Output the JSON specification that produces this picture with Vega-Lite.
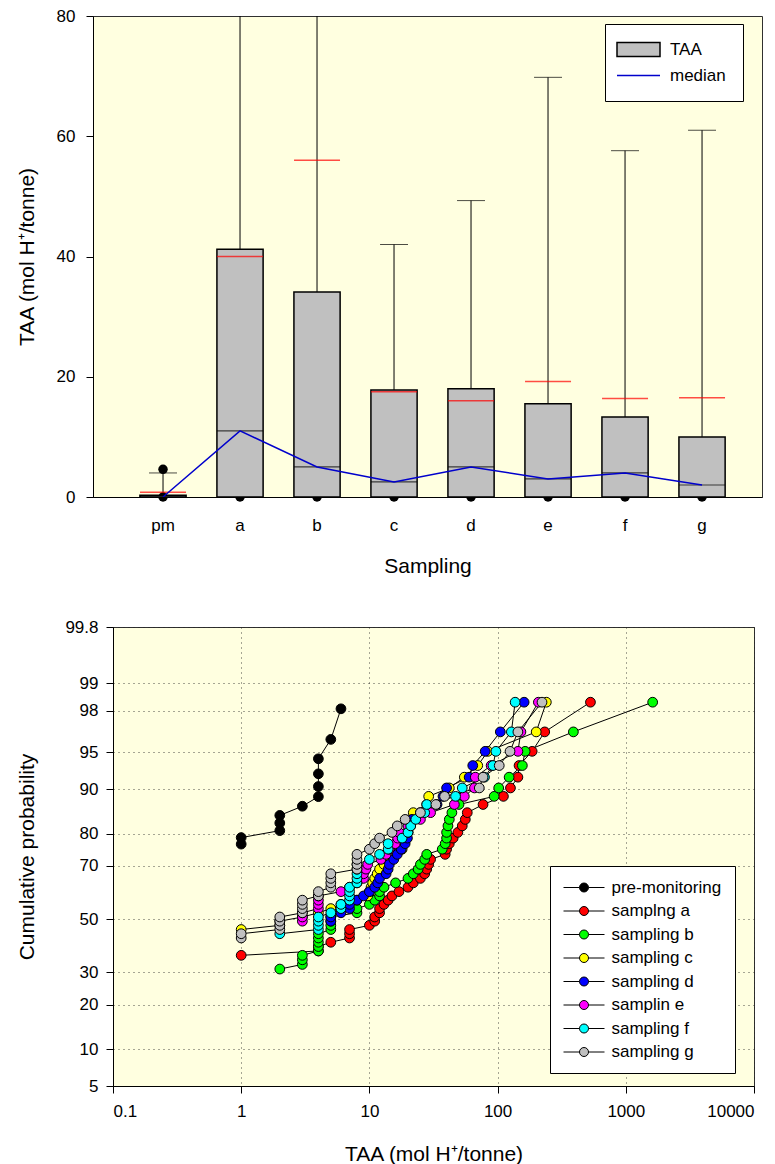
{
  "$schema": "https://vega.github.io/schema/vega-lite/v6.json",
  "background": "white",
  "padding": {"left": 15, "top": 6, "right": 5, "bottom": 0},
  "spacing": 40,
  "resolve": {
    "scale": {"color": "independent", "fill": "independent", "stroke": "independent", "shape": "independent"},
    "legend": {"color": "independent", "fill": "independent", "stroke": "independent", "shape": "independent"}
  },
  "config": {
    "font": "Liberation Sans",
    "view": {"fill": "#FFFFE0", "stroke": "#303030", "strokeWidth": 1},
    "axis": {"domainColor": "black", "tickColor": "black", "labelColor": "black", "titleColor": "black", "labelFontSize": 17, "titleFontSize": 21, "titleFontWeight": "normal", "labelFont": "Liberation Sans", "titleFont": "Liberation Sans"},
    "legend": {"labelFont": "Liberation Sans", "labelColor": "black"}
  },
  "datasets": {
    "box": [
      {"sampling": "pm", "q1": 0, "median": 0, "q3": 0.3, "upper": 4, "mean": 0.8},
      {"sampling": "a", "q1": 0, "median": 11, "q3": 41.2, "upper": 100, "mean": 40},
      {"sampling": "b", "q1": 0, "median": 5, "q3": 34.1, "upper": 100, "mean": 56},
      {"sampling": "c", "q1": 0, "median": 2.5, "q3": 17.8, "upper": 42, "mean": 17.5},
      {"sampling": "d", "q1": 0, "median": 5, "q3": 18, "upper": 49.3, "mean": 16},
      {"sampling": "e", "q1": 0, "median": 3, "q3": 15.5, "upper": 69.8, "mean": 19.2},
      {"sampling": "f", "q1": 0, "median": 4, "q3": 13.3, "upper": 57.6, "mean": 16.4},
      {"sampling": "g", "q1": 0, "median": 2, "q3": 10, "upper": 61, "mean": 16.5}
    ],
    "dots": [
      {"sampling": "pm", "taa": 0}, {"sampling": "pm", "taa": 4.6},
      {"sampling": "a", "taa": 0}, {"sampling": "b", "taa": 0}, {"sampling": "c", "taa": 0},
      {"sampling": "d", "taa": 0}, {"sampling": "e", "taa": 0}, {"sampling": "f", "taa": 0}, {"sampling": "g", "taa": 0}
    ],
    "keys": [
      {"sampling": "pm", "taa": 0, "item": "TAA"},
      {"sampling": "pm", "taa": 0, "item": "median"}
    ],
    "cdf": [
      {"series": "pre-monitoring", "taa": 1, "p": 76.92},
      {"series": "pre-monitoring", "taa": 1, "p": 78.85},
      {"series": "pre-monitoring", "taa": 2, "p": 80.77},
      {"series": "pre-monitoring", "taa": 2, "p": 82.69},
      {"series": "pre-monitoring", "taa": 2, "p": 84.62},
      {"series": "pre-monitoring", "taa": 3, "p": 86.54},
      {"series": "pre-monitoring", "taa": 4, "p": 88.46},
      {"series": "pre-monitoring", "taa": 4, "p": 90.38},
      {"series": "pre-monitoring", "taa": 4, "p": 92.31},
      {"series": "pre-monitoring", "taa": 4, "p": 94.23},
      {"series": "pre-monitoring", "taa": 5, "p": 96.15},
      {"series": "pre-monitoring", "taa": 6, "p": 98.08},

      {"series": "samplng a", "taa": 1, "p": 36.07},
      {"series": "samplng a", "taa": 4, "p": 37.70},
      {"series": "samplng a", "taa": 4, "p": 39.34},
      {"series": "samplng a", "taa": 5, "p": 40.98},
      {"series": "samplng a", "taa": 7, "p": 42.62},
      {"series": "samplng a", "taa": 7, "p": 44.26},
      {"series": "samplng a", "taa": 7, "p": 45.90},
      {"series": "samplng a", "taa": 10, "p": 47.54},
      {"series": "samplng a", "taa": 11, "p": 49.18},
      {"series": "samplng a", "taa": 11, "p": 50.82},
      {"series": "samplng a", "taa": 12, "p": 52.46},
      {"series": "samplng a", "taa": 12, "p": 54.10},
      {"series": "samplng a", "taa": 13, "p": 55.74},
      {"series": "samplng a", "taa": 14, "p": 57.38},
      {"series": "samplng a", "taa": 15, "p": 59.02},
      {"series": "samplng a", "taa": 17, "p": 60.66},
      {"series": "samplng a", "taa": 20, "p": 62.30},
      {"series": "samplng a", "taa": 22, "p": 63.93},
      {"series": "samplng a", "taa": 25, "p": 65.57},
      {"series": "samplng a", "taa": 27, "p": 67.21},
      {"series": "samplng a", "taa": 28, "p": 68.85},
      {"series": "samplng a", "taa": 29, "p": 70.49},
      {"series": "samplng a", "taa": 30, "p": 72.13},
      {"series": "samplng a", "taa": 39, "p": 73.77},
      {"series": "samplng a", "taa": 40, "p": 75.41},
      {"series": "samplng a", "taa": 42, "p": 77.05},
      {"series": "samplng a", "taa": 45, "p": 78.69},
      {"series": "samplng a", "taa": 49, "p": 80.33},
      {"series": "samplng a", "taa": 53, "p": 81.97},
      {"series": "samplng a", "taa": 56, "p": 83.61},
      {"series": "samplng a", "taa": 58, "p": 85.25},
      {"series": "samplng a", "taa": 77, "p": 86.89},
      {"series": "samplng a", "taa": 111, "p": 88.52},
      {"series": "samplng a", "taa": 126, "p": 90.16},
      {"series": "samplng a", "taa": 144, "p": 91.80},
      {"series": "samplng a", "taa": 147, "p": 93.44},
      {"series": "samplng a", "taa": 186, "p": 95.08},
      {"series": "samplng a", "taa": 233, "p": 96.72},
      {"series": "samplng a", "taa": 530, "p": 98.36},

      {"series": "sampling b", "taa": 2, "p": 31.15},
      {"series": "sampling b", "taa": 3, "p": 32.79},
      {"series": "sampling b", "taa": 3, "p": 34.43},
      {"series": "sampling b", "taa": 3, "p": 36.07},
      {"series": "sampling b", "taa": 4, "p": 37.70},
      {"series": "sampling b", "taa": 4, "p": 39.34},
      {"series": "sampling b", "taa": 4, "p": 40.98},
      {"series": "sampling b", "taa": 4, "p": 42.62},
      {"series": "sampling b", "taa": 4, "p": 44.26},
      {"series": "sampling b", "taa": 5, "p": 45.90},
      {"series": "sampling b", "taa": 5, "p": 47.54},
      {"series": "sampling b", "taa": 5, "p": 49.18},
      {"series": "sampling b", "taa": 5, "p": 50.82},
      {"series": "sampling b", "taa": 8, "p": 52.46},
      {"series": "sampling b", "taa": 8, "p": 54.10},
      {"series": "sampling b", "taa": 10, "p": 55.74},
      {"series": "sampling b", "taa": 11, "p": 57.38},
      {"series": "sampling b", "taa": 12, "p": 59.02},
      {"series": "sampling b", "taa": 12, "p": 60.66},
      {"series": "sampling b", "taa": 13, "p": 62.30},
      {"series": "sampling b", "taa": 16, "p": 63.93},
      {"series": "sampling b", "taa": 20, "p": 65.57},
      {"series": "sampling b", "taa": 22, "p": 67.21},
      {"series": "sampling b", "taa": 24, "p": 68.85},
      {"series": "sampling b", "taa": 25, "p": 70.49},
      {"series": "sampling b", "taa": 27, "p": 72.13},
      {"series": "sampling b", "taa": 28, "p": 73.77},
      {"series": "sampling b", "taa": 37, "p": 75.41},
      {"series": "sampling b", "taa": 39, "p": 77.05},
      {"series": "sampling b", "taa": 40, "p": 78.69},
      {"series": "sampling b", "taa": 40, "p": 80.33},
      {"series": "sampling b", "taa": 41, "p": 81.97},
      {"series": "sampling b", "taa": 42, "p": 83.61},
      {"series": "sampling b", "taa": 44, "p": 85.25},
      {"series": "sampling b", "taa": 50, "p": 86.89},
      {"series": "sampling b", "taa": 94, "p": 88.52},
      {"series": "sampling b", "taa": 102, "p": 90.16},
      {"series": "sampling b", "taa": 123, "p": 91.80},
      {"series": "sampling b", "taa": 156, "p": 93.44},
      {"series": "sampling b", "taa": 164, "p": 95.08},
      {"series": "sampling b", "taa": 390, "p": 96.72},
      {"series": "sampling b", "taa": 1620, "p": 98.36},

      {"series": "sampling c", "taa": 1, "p": 45.90},
      {"series": "sampling c", "taa": 2, "p": 47.54},
      {"series": "sampling c", "taa": 2, "p": 49.18},
      {"series": "sampling c", "taa": 3, "p": 50.82},
      {"series": "sampling c", "taa": 4, "p": 52.46},
      {"series": "sampling c", "taa": 5, "p": 54.10},
      {"series": "sampling c", "taa": 6, "p": 55.74},
      {"series": "sampling c", "taa": 8, "p": 57.38},
      {"series": "sampling c", "taa": 9.7, "p": 59.02},
      {"series": "sampling c", "taa": 10, "p": 60.66},
      {"series": "sampling c", "taa": 10.3, "p": 62.30},
      {"series": "sampling c", "taa": 10.6, "p": 63.93},
      {"series": "sampling c", "taa": 11, "p": 65.57},
      {"series": "sampling c", "taa": 11.5, "p": 67.21},
      {"series": "sampling c", "taa": 12, "p": 68.85},
      {"series": "sampling c", "taa": 13, "p": 70.49},
      {"series": "sampling c", "taa": 14, "p": 72.13},
      {"series": "sampling c", "taa": 16, "p": 73.77},
      {"series": "sampling c", "taa": 18, "p": 75.41},
      {"series": "sampling c", "taa": 18.5, "p": 77.05},
      {"series": "sampling c", "taa": 19, "p": 78.69},
      {"series": "sampling c", "taa": 20, "p": 80.33},
      {"series": "sampling c", "taa": 20.5, "p": 81.97},
      {"series": "sampling c", "taa": 21, "p": 83.61},
      {"series": "sampling c", "taa": 22, "p": 85.25},
      {"series": "sampling c", "taa": 28, "p": 86.89},
      {"series": "sampling c", "taa": 29, "p": 88.52},
      {"series": "sampling c", "taa": 42, "p": 90.16},
      {"series": "sampling c", "taa": 55, "p": 91.80},
      {"series": "sampling c", "taa": 70, "p": 93.44},
      {"series": "sampling c", "taa": 84, "p": 95.08},
      {"series": "sampling c", "taa": 200, "p": 96.72},
      {"series": "sampling c", "taa": 240, "p": 98.36},

      {"series": "sampling d", "taa": 5, "p": 49.18},
      {"series": "sampling d", "taa": 5, "p": 50.82},
      {"series": "sampling d", "taa": 6, "p": 52.46},
      {"series": "sampling d", "taa": 7, "p": 54.10},
      {"series": "sampling d", "taa": 7, "p": 55.74},
      {"series": "sampling d", "taa": 8, "p": 57.38},
      {"series": "sampling d", "taa": 9, "p": 59.02},
      {"series": "sampling d", "taa": 10, "p": 60.66},
      {"series": "sampling d", "taa": 11, "p": 62.30},
      {"series": "sampling d", "taa": 11.6, "p": 63.93},
      {"series": "sampling d", "taa": 12, "p": 65.57},
      {"series": "sampling d", "taa": 13.5, "p": 67.21},
      {"series": "sampling d", "taa": 14, "p": 68.85},
      {"series": "sampling d", "taa": 14.3, "p": 70.49},
      {"series": "sampling d", "taa": 15.5, "p": 72.13},
      {"series": "sampling d", "taa": 16.5, "p": 73.77},
      {"series": "sampling d", "taa": 17.7, "p": 75.41},
      {"series": "sampling d", "taa": 19, "p": 77.05},
      {"series": "sampling d", "taa": 19.8, "p": 78.69},
      {"series": "sampling d", "taa": 20, "p": 80.33},
      {"series": "sampling d", "taa": 21, "p": 81.97},
      {"series": "sampling d", "taa": 21.5, "p": 83.61},
      {"series": "sampling d", "taa": 25, "p": 85.25},
      {"series": "sampling d", "taa": 33.7, "p": 86.89},
      {"series": "sampling d", "taa": 37.5, "p": 88.52},
      {"series": "sampling d", "taa": 40, "p": 90.16},
      {"series": "sampling d", "taa": 60, "p": 91.80},
      {"series": "sampling d", "taa": 64, "p": 93.44},
      {"series": "sampling d", "taa": 80, "p": 95.08},
      {"series": "sampling d", "taa": 105, "p": 96.72},
      {"series": "sampling d", "taa": 161, "p": 98.36},

      {"series": "samplin e", "taa": 3, "p": 49.18},
      {"series": "samplin e", "taa": 3, "p": 50.82},
      {"series": "samplin e", "taa": 3, "p": 52.46},
      {"series": "samplin e", "taa": 4, "p": 54.10},
      {"series": "samplin e", "taa": 4, "p": 55.74},
      {"series": "samplin e", "taa": 4, "p": 57.38},
      {"series": "samplin e", "taa": 4, "p": 59.02},
      {"series": "samplin e", "taa": 6, "p": 60.66},
      {"series": "samplin e", "taa": 7, "p": 62.30},
      {"series": "samplin e", "taa": 8, "p": 63.93},
      {"series": "samplin e", "taa": 9, "p": 65.57},
      {"series": "samplin e", "taa": 9, "p": 67.21},
      {"series": "samplin e", "taa": 9.4, "p": 68.85},
      {"series": "samplin e", "taa": 9.7, "p": 70.49},
      {"series": "samplin e", "taa": 12.3, "p": 72.13},
      {"series": "samplin e", "taa": 13.5, "p": 73.77},
      {"series": "samplin e", "taa": 14.3, "p": 75.41},
      {"series": "samplin e", "taa": 15.9, "p": 77.05},
      {"series": "samplin e", "taa": 16.6, "p": 78.69},
      {"series": "samplin e", "taa": 17, "p": 80.33},
      {"series": "samplin e", "taa": 20, "p": 81.97},
      {"series": "samplin e", "taa": 25, "p": 83.61},
      {"series": "samplin e", "taa": 30, "p": 85.25},
      {"series": "samplin e", "taa": 46, "p": 86.89},
      {"series": "samplin e", "taa": 55, "p": 88.52},
      {"series": "samplin e", "taa": 66, "p": 90.16},
      {"series": "samplin e", "taa": 67, "p": 91.80},
      {"series": "samplin e", "taa": 89, "p": 93.44},
      {"series": "samplin e", "taa": 144, "p": 95.08},
      {"series": "samplin e", "taa": 152, "p": 96.72},
      {"series": "samplin e", "taa": 208, "p": 98.36},

      {"series": "sampling f", "taa": 2, "p": 44.26},
      {"series": "sampling f", "taa": 4, "p": 45.90},
      {"series": "sampling f", "taa": 4, "p": 47.54},
      {"series": "sampling f", "taa": 4, "p": 49.18},
      {"series": "sampling f", "taa": 4, "p": 50.82},
      {"series": "sampling f", "taa": 5, "p": 52.46},
      {"series": "sampling f", "taa": 6, "p": 54.10},
      {"series": "sampling f", "taa": 6, "p": 55.74},
      {"series": "sampling f", "taa": 7, "p": 57.38},
      {"series": "sampling f", "taa": 7, "p": 59.02},
      {"series": "sampling f", "taa": 7, "p": 60.66},
      {"series": "sampling f", "taa": 7, "p": 62.30},
      {"series": "sampling f", "taa": 8, "p": 63.93},
      {"series": "sampling f", "taa": 8, "p": 65.57},
      {"series": "sampling f", "taa": 8, "p": 67.21},
      {"series": "sampling f", "taa": 8, "p": 68.85},
      {"series": "sampling f", "taa": 8, "p": 70.49},
      {"series": "sampling f", "taa": 10, "p": 72.13},
      {"series": "sampling f", "taa": 12, "p": 73.77},
      {"series": "sampling f", "taa": 14, "p": 75.41},
      {"series": "sampling f", "taa": 14, "p": 77.05},
      {"series": "sampling f", "taa": 18, "p": 78.69},
      {"series": "sampling f", "taa": 20, "p": 80.33},
      {"series": "sampling f", "taa": 21, "p": 81.97},
      {"series": "sampling f", "taa": 23, "p": 83.61},
      {"series": "sampling f", "taa": 27, "p": 85.25},
      {"series": "sampling f", "taa": 28, "p": 86.89},
      {"series": "sampling f", "taa": 47, "p": 88.52},
      {"series": "sampling f", "taa": 53, "p": 90.16},
      {"series": "sampling f", "taa": 79, "p": 91.80},
      {"series": "sampling f", "taa": 92, "p": 93.44},
      {"series": "sampling f", "taa": 97, "p": 95.08},
      {"series": "sampling f", "taa": 128, "p": 96.72},
      {"series": "sampling f", "taa": 137, "p": 98.36},

      {"series": "sampling g", "taa": 1, "p": 42.62},
      {"series": "sampling g", "taa": 1, "p": 44.26},
      {"series": "sampling g", "taa": 2, "p": 45.90},
      {"series": "sampling g", "taa": 2, "p": 47.54},
      {"series": "sampling g", "taa": 2, "p": 49.18},
      {"series": "sampling g", "taa": 2, "p": 50.82},
      {"series": "sampling g", "taa": 3, "p": 52.46},
      {"series": "sampling g", "taa": 3, "p": 54.10},
      {"series": "sampling g", "taa": 3, "p": 55.74},
      {"series": "sampling g", "taa": 3, "p": 57.38},
      {"series": "sampling g", "taa": 4, "p": 59.02},
      {"series": "sampling g", "taa": 4, "p": 60.66},
      {"series": "sampling g", "taa": 5, "p": 62.30},
      {"series": "sampling g", "taa": 5, "p": 63.93},
      {"series": "sampling g", "taa": 5, "p": 65.57},
      {"series": "sampling g", "taa": 5, "p": 67.21},
      {"series": "sampling g", "taa": 8, "p": 68.85},
      {"series": "sampling g", "taa": 8, "p": 70.49},
      {"series": "sampling g", "taa": 8, "p": 72.13},
      {"series": "sampling g", "taa": 8, "p": 73.77},
      {"series": "sampling g", "taa": 10, "p": 75.41},
      {"series": "sampling g", "taa": 11, "p": 77.05},
      {"series": "sampling g", "taa": 12, "p": 78.69},
      {"series": "sampling g", "taa": 15, "p": 80.33},
      {"series": "sampling g", "taa": 16.5, "p": 81.97},
      {"series": "sampling g", "taa": 19, "p": 83.61},
      {"series": "sampling g", "taa": 25, "p": 85.25},
      {"series": "sampling g", "taa": 33, "p": 86.89},
      {"series": "sampling g", "taa": 38.6, "p": 88.52},
      {"series": "sampling g", "taa": 72, "p": 90.16},
      {"series": "sampling g", "taa": 77, "p": 91.80},
      {"series": "sampling g", "taa": 103, "p": 93.44},
      {"series": "sampling g", "taa": 125, "p": 95.08},
      {"series": "sampling g", "taa": 144, "p": 96.72},
      {"series": "sampling g", "taa": 222, "p": 98.36}
    ]
  },
  "vconcat": [
    {
      "width": 669,
      "height": 481,
      "encoding": {
        "x": {
          "field": "sampling", "type": "nominal",
          "sort": ["pm", "a", "b", "c", "d", "e", "f", "g"],
          "scale": {"paddingInner": 0.4, "paddingOuter": 0.544, "align": 0.56},
          "axis": {"title": "Sampling", "labelAngle": 0, "ticks": false, "labelPadding": 20, "titlePadding": 22, "zindex": 1, "grid": false}
        }
      },
      "layer": [
        {
          "data": {"name": "dots"},
          "mark": {"type": "point", "shape": "circle", "filled": true, "color": "black", "size": 90, "opacity": 1},
          "encoding": {
            "y": {"field": "taa", "type": "quantitative", "scale": {"domain": [0, 80], "nice": false},
                  "axis": {"title": "TAA (mol H⁺/tonne)", "values": [0, 20, 40, 60, 80], "tickSize": 7, "labelPadding": 11, "titlePadding": 19, "grid": false}}
          }
        },
        {
          "data": {"name": "box"},
          "mark": {"type": "rule", "color": "black", "strokeWidth": 1, "clip": true},
          "encoding": {"y": {"field": "q3", "type": "quantitative"}, "y2": {"field": "upper"}}
        },
        {
          "data": {"name": "box"},
          "mark": {"type": "tick", "color": "black", "size": 28, "thickness": 1, "clip": true},
          "encoding": {"y": {"field": "upper", "type": "quantitative"}}
        },
        {
          "data": {"name": "box"},
          "mark": {"type": "bar", "fill": "#C0C0C0", "stroke": "black", "strokeWidth": 1.5, "width": {"band": 1}},
          "encoding": {"y": {"field": "q1", "type": "quantitative"}, "y2": {"field": "q3"}}
        },
        {
          "data": {"name": "box"},
          "mark": {"type": "tick", "color": "black", "size": 46, "thickness": 1.2},
          "encoding": {"y": {"field": "median", "type": "quantitative"}}
        },
        {
          "data": {"name": "box"},
          "mark": {"type": "tick", "color": "#FF0000", "size": 46, "thickness": 1.5},
          "encoding": {"y": {"field": "mean", "type": "quantitative"}}
        },
        {
          "data": {"name": "box"},
          "mark": {"type": "line", "stroke": "#0000CC", "strokeWidth": 1.5},
          "encoding": {"y": {"field": "median", "type": "quantitative"}}
        },
        {
          "data": {"name": "keys"},
          "mark": {"type": "point", "filled": true, "size": 100, "strokeWidth": 1.5, "opacity": 0},
          "encoding": {
            "y": {"field": "taa", "type": "quantitative"},
            "fill": {
              "field": "item", "type": "nominal",
              "scale": {"domain": ["TAA", "median"], "range": ["#C0C0C0", "transparent"]},
              "legend": {
                "title": null, "orient": "none", "legendX": 512, "legendY": 8,
                "fillColor": "white", "strokeColor": "black", "padding": 17,
                "labelFontSize": 17, "symbolSize": 100, "symbolOpacity": 1, "symbolStrokeWidth": 1.5,
                "symbolOffset": 8, "labelOffset": 23, "rowPadding": 6
              }
            },
            "stroke": {
              "field": "item", "type": "nominal",
              "scale": {"domain": ["TAA", "median"], "range": ["#000000", "#0000CC"]},
              "legend": {
                "title": null, "orient": "none", "legendX": 512, "legendY": 8,
                "fillColor": "white", "strokeColor": "black", "padding": 17,
                "labelFontSize": 17, "symbolSize": 100, "symbolOpacity": 1, "symbolStrokeWidth": 1.5,
                "symbolOffset": 8, "labelOffset": 23, "rowPadding": 6
              }
            },
            "shape": {
              "field": "item", "type": "nominal",
              "scale": {"domain": ["TAA", "median"], "range": ["M-4.3,-1.4H4.3V1.4H-4.3Z", "M-4.3,0H4.3"]},
              "legend": {
                "title": null, "orient": "none", "legendX": 512, "legendY": 8,
                "fillColor": "white", "strokeColor": "black", "padding": 17,
                "labelFontSize": 17, "symbolSize": 100, "symbolOpacity": 1, "symbolStrokeWidth": 1.5,
                "symbolOffset": 8, "labelOffset": 23, "rowPadding": 6
              }
            }
          }
        }
      ]
    },
    {
      "bounds": "flush",
      "spacing": 0,
      "resolve": {
        "scale": {"color": "independent"},
        "legend": {"color": "independent"}
      },
      "hconcat": [
        {
          "width": 20,
          "height": 459,
          "view": {"fill": null, "stroke": null},
          "data": {"values": [{"blank": 0}]},
          "mark": {"type": "point", "opacity": 0}
        },
        {
          "width": 641,
          "height": 459,
          "data": {"name": "cdf"},
          "encoding": {
            "x": {
              "field": "taa", "type": "quantitative",
              "scale": {"type": "log", "domain": [0.1, 10000], "nice": false},
              "axis": {"title": "TAA (mol H⁺/tonne)", "values": [0.1, 1, 10, 100, 1000, 10000], "labelExpr": "'' + datum.value",
                       "tickSize": 7, "labelPadding": 10, "titlePadding": 24,
                       "grid": true, "gridColor": "#202020", "gridDash": [1, 4], "gridOpacity": 0.8}
            },
            "y": {
              "field": "p", "type": "quantitative",
              "scale": {
                "domain": [5, 10, 15, 20, 25, 30, 35, 40, 45, 50, 55, 60, 65, 70, 75, 80, 85, 90, 93, 95, 96, 97, 98, 98.5, 99, 99.5, 99.8],
                "range": [459, 422.1, 397.2, 377.5, 360.5, 345.3, 331.2, 317.8, 304.8, 292.1, 279.3, 266.4, 253.0, 238.9, 223.6, 206.7, 186.9, 162.0, 142.3, 125.2, 114.4, 101.2, 83.7, 71.9, 56.0, 30.7, 0],
                "nice": false, "zero": false
              },
              "axis": {"title": "Cumulative probability", "values": [5, 10, 20, 30, 50, 70, 80, 90, 95, 98, 99, 99.8], "labelExpr": "'' + datum.value",
                       "tickSize": 7, "labelPadding": 8, "titlePadding": 27,
                       "grid": true, "gridColor": "#202020", "gridDash": [1, 4], "gridOpacity": 0.8}
            }
          },
          "layer": [
            {
              "mark": {"type": "line", "color": "black", "strokeWidth": 1},
              "encoding": {"detail": {"field": "series"}, "order": {"field": "p", "type": "quantitative"}}
            },
            {
              "mark": {"type": "point", "shape": "circle", "filled": true, "size": 95, "stroke": "black", "strokeWidth": 1, "opacity": 1},
              "encoding": {
                "color": {
                  "field": "series", "type": "nominal",
                  "scale": {
                    "domain": ["pre-monitoring", "samplng a", "sampling b", "sampling c", "sampling d", "samplin e", "sampling f", "sampling g"],
                    "range": ["#000000", "#FF0000", "#00FF00", "#FFFF00", "#0000FF", "#FF00FF", "#00FFFF", "#C0C0C0"]
                  },
                  "legend": {
                    "title": null, "orient": "none", "legendX": 437, "legendY": 239,
                    "fillColor": "white", "strokeColor": "black", "padding": 13,
                    "labelFontSize": 17, "symbolSize": 100,
                    "symbolType": "M-4.1,0H-0.9M0.9,0H4.1M-0.9,0A0.9,0.9,0,1,1,0.9,0A0.9,0.9,0,1,1,-0.9,0Z",
                    "symbolOffset": 12.5, "labelOffset": 19,
                    "symbolStrokeColor": "black", "symbolStrokeWidth": 1, "symbolOpacity": 1,
                    "rowPadding": 5.5
                  }
                }
              }
            }
          ]
        }
      ]
    }
  ]
}
